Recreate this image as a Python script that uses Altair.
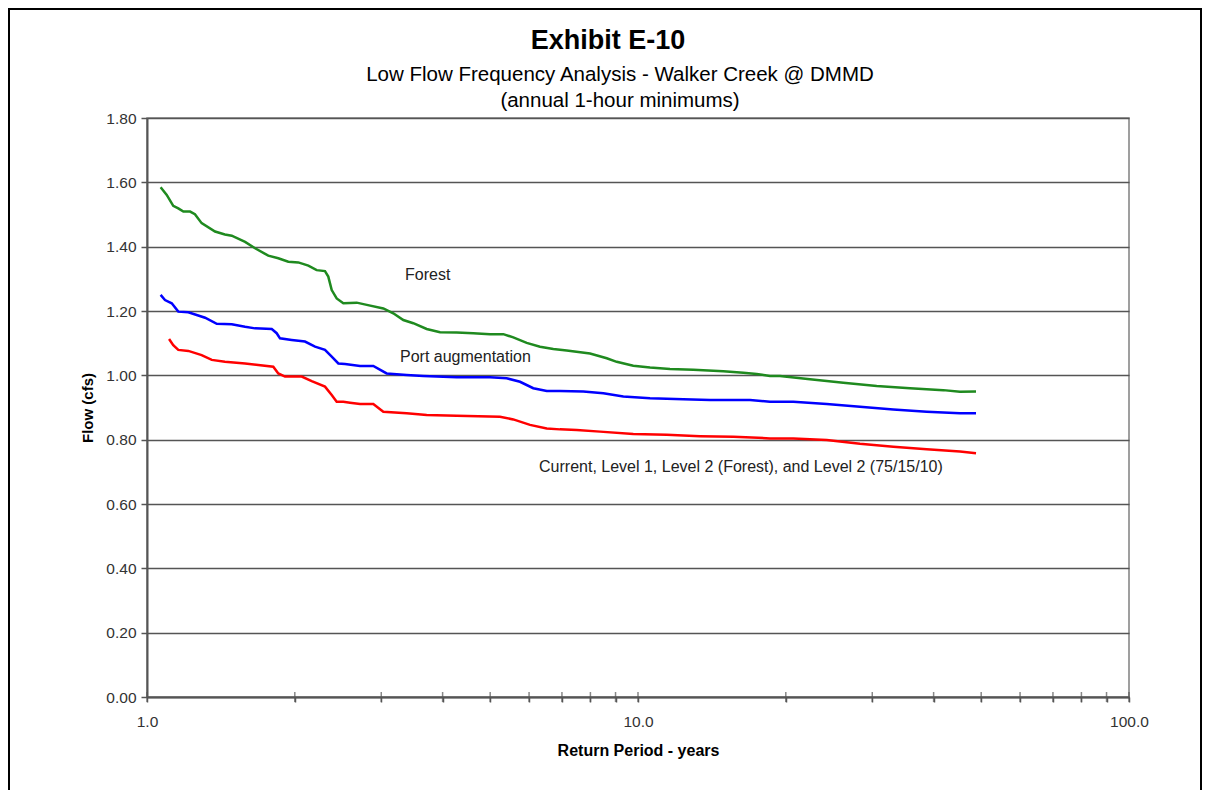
import altair as alt
import pandas as pd

# ---------------- data ----------------
series_names = ["Forest", "Port augmentation", "Current"]
series_colors = ["#1f8a1f", "#0000ff", "#ff0000"]

forest_T = [1.066, 1.097, 1.131, 1.158, 1.186, 1.224, 1.252, 1.292, 1.376, 1.441,
            1.488, 1.584, 1.660, 1.766, 1.851, 1.940, 2.033, 2.131, 2.216, 2.304,
            2.340, 2.378, 2.434, 2.511, 2.674, 2.803, 3.029, 3.174, 3.327, 3.486,
            3.712, 3.952, 4.273, 4.618, 4.995, 5.317, 5.572, 5.934, 6.316, 6.722,
            7.158, 7.985, 8.637, 9.049, 9.781, 10.58, 11.62, 12.96, 14.92, 16.39,
            17.45, 18.57, 19.46, 22.40, 26.19, 30.63, 35.81, 41.86, 45.27, 48.80]
forest_flow = [1.585, 1.561, 1.527, 1.519, 1.509, 1.509, 1.501, 1.473, 1.447, 1.438,
               1.434, 1.415, 1.395, 1.372, 1.364, 1.353, 1.351, 1.341, 1.327, 1.324,
               1.307, 1.265, 1.239, 1.224, 1.226, 1.219, 1.208, 1.193, 1.172, 1.162,
               1.144, 1.134, 1.133, 1.131, 1.128, 1.128, 1.118, 1.101, 1.089, 1.082,
               1.077, 1.068, 1.053, 1.042, 1.030, 1.024, 1.020, 1.017, 1.013, 1.008,
               1.004, 0.998, 0.998, 0.988, 0.977, 0.967, 0.960, 0.954, 0.949, 0.950]

port_T = [1.066, 1.088, 1.123, 1.158, 1.214, 1.313, 1.387, 1.488, 1.584, 1.660,
          1.795, 1.837, 1.866, 1.971, 2.098, 2.199, 2.304, 2.378, 2.453, 2.531,
          2.716, 2.890, 3.077, 3.380, 3.653, 4.273, 4.995, 5.401, 5.750, 6.120,
          6.519, 6.936, 7.738, 8.501, 9.335, 10.58, 12.37, 14.02, 16.91, 18.57,
          20.72, 24.23, 28.32, 33.11, 38.73, 45.27, 48.80]
port_flow = [1.250, 1.234, 1.224, 1.198, 1.196, 1.179, 1.160, 1.159, 1.151, 1.146,
             1.144, 1.131, 1.115, 1.110, 1.105, 1.089, 1.079, 1.058, 1.037, 1.035,
             1.029, 1.029, 1.006, 1.001, 0.998, 0.994, 0.994, 0.991, 0.980, 0.960,
             0.951, 0.951, 0.950, 0.944, 0.934, 0.929, 0.926, 0.923, 0.923, 0.918,
             0.918, 0.911, 0.902, 0.894, 0.887, 0.882, 0.882]

current_T = [1.109, 1.131, 1.158, 1.214, 1.292, 1.355, 1.441, 1.584, 1.685, 1.808,
             1.851, 1.910, 2.066, 2.165, 2.304, 2.378, 2.434, 2.511, 2.591, 2.716,
             2.890, 3.029, 3.380, 3.712, 4.273, 5.235, 5.572, 6.026, 6.519, 6.936,
             7.503, 8.369, 9.781, 11.44, 13.38, 15.64, 18.57, 20.72, 24.23, 28.32,
             33.11, 38.73, 45.27, 48.80]
current_flow = [1.113, 1.094, 1.079, 1.076, 1.063, 1.048, 1.042, 1.037, 1.032, 1.027,
                1.006, 0.996, 0.996, 0.982, 0.965, 0.939, 0.918, 0.918, 0.915, 0.911,
                0.911, 0.887, 0.882, 0.877, 0.874, 0.871, 0.863, 0.846, 0.835, 0.832,
                0.830, 0.825, 0.818, 0.815, 0.811, 0.809, 0.804, 0.804, 0.799, 0.787,
                0.778, 0.770, 0.763, 0.758]

y_ticks = [0.0, 0.2, 0.4, 0.6, 0.8, 1.0, 1.2, 1.4, 1.6, 1.8]
x_ticks = [1, 2, 3, 4, 5, 6, 7, 8, 9, 10, 20, 30, 40, 50, 60, 70, 80, 90, 100]

label_texts = ["Forest", "Port augmentation",
               "Current, Level 1, Level 2 (Forest), and Level 2 (75/15/10)"]
label_T = [3.354, 3.276, 6.287]
label_flow = [1.312, 1.057, 0.715]

title_text = "Exhibit E-10"
subtitle_1 = "Low Flow Frequency Analysis - Walker Creek @ DMMD"
subtitle_2 = "(annual 1-hour minimums)"

# ---------------- tables ----------------
rows = []
for name, Ts, Vs in [("Forest", forest_T, forest_flow),
                     ("Port augmentation", port_T, port_flow),
                     ("Current", current_T, current_flow)]:
    for i, (t, v) in enumerate(zip(Ts, Vs)):
        rows.append({"series": name, "T": t, "flow": v, "i": i})
df = pd.DataFrame(rows)
labels_df = pd.DataFrame({"text": label_texts, "T": label_T, "flow": label_flow})
ticks_df = pd.DataFrame({"T": x_ticks})

FONT = "Liberation Sans"
W, H = 982, 579
x_scale = alt.Scale(type="log", domain=[1, 100], nice=False)
y_scale = alt.Scale(domain=[0, 1.8], nice=False)

x_label_expr = ("(datum.value == 1 || datum.value == 10 || datum.value == 100) ? "
                "format(datum.value, '.1f') : ''")

lines = alt.Chart(df).mark_line(strokeWidth=2.5, clip=True).encode(
    x=alt.X("T:Q", scale=x_scale,
            axis=alt.Axis(values=x_ticks, labelExpr=x_label_expr,
                          labelFlush=False, labelOverlap=False,
                          title="Return Period - years", grid=False,
                          tickSize=5, labelPadding=12, titlePadding=13,
                          labelFontSize=15.5, titleFontSize=16)),
    y=alt.Y("flow:Q", scale=y_scale,
            axis=alt.Axis(values=y_ticks, format=".2f", title="Flow (cfs)",
                          grid=True, tickSize=6, labelPadding=5,
                          labelFlush=False,
                          titlePadding=10, labelFontSize=15.5, titleFontSize=15)),
    color=alt.Color("series:N",
                    scale=alt.Scale(domain=series_names, range=series_colors),
                    legend=None),
    order="i:Q",
)

# x ticks that cross the axis line (as in the reference)
cross_ticks = alt.Chart(ticks_df).mark_tick(
    orient="vertical", size=10, thickness=1.5, color="#555555", clip=False
).encode(
    x=alt.X("T:Q", scale=x_scale),
    y=alt.value(H),
)

annotations = alt.Chart(labels_df).mark_text(
    align="left", baseline="middle", font=FONT, fontSize=16, color="#222222"
).encode(
    x=alt.X("T:Q", scale=x_scale),
    y=alt.Y("flow:Q", scale=y_scale),
    text="text:N",
)

one = alt.Data(values=[{}])
title_mark = alt.Chart(one).mark_text(
    align="center", baseline="alphabetic", font=FONT, fontSize=27,
    fontWeight="bold", color="black", text=title_text
).encode(x=alt.value(461), y=alt.value(-69))
sub1_mark = alt.Chart(one).mark_text(
    align="center", baseline="alphabetic", font=FONT, fontSize=20.5,
    color="black", text=subtitle_1
).encode(x=alt.value(473), y=alt.value(-37))
sub2_mark = alt.Chart(one).mark_text(
    align="center", baseline="alphabetic", font=FONT, fontSize=20.5,
    color="black", text=subtitle_2
).encode(x=alt.value(473), y=alt.value(-11))

frame = alt.Chart(one).mark_rect(
    filled=False, stroke="black", strokeWidth=3, clip=False
).encode(x=alt.value(-138.5), x2=alt.value(1054.5), y=alt.value(-109.5), y2=alt.value(720))

chart = alt.layer(
    lines, cross_ticks, annotations, title_mark, sub1_mark, sub2_mark, frame
).properties(
    width=W, height=H,
    padding={"left": 139, "top": 110, "right": 73, "bottom": 93},
    autosize=alt.AutoSizeParams(type="none"),
    background="white",
).configure_view(
    stroke="#808080", strokeWidth=1.5
).configure_axis(
    domainColor="#555555", domainWidth=2, tickColor="#555555", tickWidth=1.5,
    gridColor="#555555", gridWidth=1.5, gridOpacity=1,
    labelFont=FONT, labelColor="#333333", titleFont=FONT, titleColor="black",
    titleFontWeight="bold",
)

chart.save("out.html", embed_options={"renderer": "svg", "actions": False})
